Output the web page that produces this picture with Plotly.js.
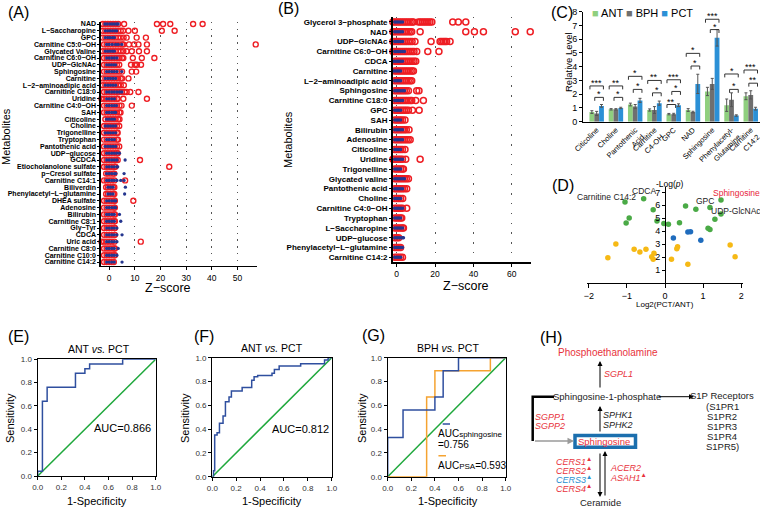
<!DOCTYPE html>
<html><head><meta charset="utf-8">
<script src="https://cdn.plot.ly/plotly-3.0.1.min.js"></script>
<style>html,body{margin:0;padding:0;background:#fff}#chart{width:760px;height:507px}</style>
</head><body><div id="chart"></div>
<script>
// ---------- Panel A data ----------
const namesA = ["NAD","L−Saccharopine","GPC","Carnitine C5:0−OH","Glycated Valine","Carnitine C6:0−OH","UDP−GlcNAc","Sphingosine","Carnitine","L−2−aminoadipic acid","Carnitine C18:0","Uridine","Carnitine C4:0−OH","SAH","Citicoline","Choline","Trigonelline","Tryptophan","Pantothenic acid","UDP−glucose","GCDCA","Etiocholanolone sulfate","p−Cresol sulfate","Carnitine C14:1","Biliverdin","Phenylacetyl−L−glutamine","DHEA sulfate","Adenosine","Bilirubin","Carnitine C8:1","Gly−Tyr","CDCA","Uric acid","Carnitine C8:0","Carnitine C10:0","Carnitine C14:2"];
const redA = [
 [-2.5,-1.5,-0.5,0.5,1.5,2.5,3.5,5.8,18.6,21,23.8,32.7,36.4],
 [-2.5,-1.5,-0.5,0.5,1.5,2.5,3.5,4.5,5.4,7.5,10,20.5,25.5],
 [-2.5,-1.5,-0.5,0.5,1.5,2.5,3.5,4.5,5.6,6.8,10.7,14.3],
 [-2,-1,0,1,2,3,4,5,5.5,7.7,9.7,11.4,14.7,57.1],
 [-2.5,-1.5,-0.5,0.5,1.5,2.5,3.5,4.5,5.5,6.8,8.8,11.6,14.7],
 [-2,-1,0,1,2,3,4,5,5.5,9.2,12.7,17.6],
 [-2,-1,0,1,2,3,3.9,8.5,10,10.8,12.4],
 [-2,-1,0,1,2,3,4,5,8.8,10.5],
 [-2.5,-1.5,-0.5,0.5,1.5,2.5,3.5,4.5,5,7.5],
 [-2.5,-1.5,-0.5,0.5,1.5,2.5,3.5,4.5,5.7],
 [-2,-1,0,1,2,3,4,5,6,6.8,8.2,11.4],
 [-3.9,-3,-2,-1,0,1,2,3,3.3,5.5,14.7],
 [-2,-1,0,1,2,3,4,4.8,8.8],
 [-2,-1,0,1,2,3,4,4.4],
 [-1.5,-0.5,0.5,1.5,2.5,3.5,4],
 [-2,-1,0,1,2,3,3.9],
 [-2,-1,0,1,2,3,3.3],
 [-2,-1,0,1,2,3,3.4],
 [-2,-1,0,1,2,3,3.9],
 [-2,-1,0,1,2,3,3.3],
 [-2,-1,0,1,2,2.6,3.3,12],
 [-2,-1,0,1,2,2.4,23.4],
 [-1.2,-0.5,0.5,1.5,2],
 [-2,-1,0,1,2,6.2],
 [-1.2,-0.5,0.5,1.5,2],
 [-1.2,-0.5,0.5,1.5,2],
 [-2,-1,0,1,2,2.2,9.4],
 [-2,-1,0,1,2,2.2],
 [-2,-1,0,1,2,2.2],
 [-2,-1,0,1,2,2.2],
 [-2,-1,0,1,2,2.2],
 [-2,-1,0,1,2,2.2],
 [-3,-2,-1,0,1,2,12.3],
 [-2,-1,0,1,2,2.2],
 [-2,-1,0,1,2,2.2],
 [-2,-1,0,1,1.8]
];
const blueA = [
 [-1.7,-0.8,0.2,1.1,2,2.9,3.5],
 [-1.5,-0.6,0.3,1.2,2.1,2.9],
 [-1.5,-0.6,0.3,1.2,2],
 [-1,0,1.2,2.5,3.5,4.9],
 [-1.5,-0.6,0.3,1.2,2],
 [-1,0,1,2,3],
 [-1,-0.1,0.8,1.7,2.5],
 [-1,0,1,2,3,4.9],
 [-1.5,-0.5,0.5,1.5,2.5],
 [-1.5,-0.5,0.5,1.5,2.5],
 [-1,0,1,2,3,4,4.9],
 [-1,0,1,2],
 [-1,0,1,2,2.8],
 [-1,0,1,2,2.5],
 [-1,0,1,2],
 [-1.5,-0.5,0.5,1.5,2.5],
 [-1.5,-0.5,0.5,1.5,2.5],
 [-1,0,1,2],
 [-1.5,-0.5,0.5,1.5,2.5],
 [-1,0,1,2,3,4],
 [-1,0,1,2,3,6.2],
 [-1,0,1,2,3,3.3],
 [-1,0,1,2,2.6,5.8],
 [-1,0,1,2,3,4.5,5.8],
 [-0.5,0.5,1.5,6.3],
 [-0.5,0.5,1.5,6],
 [-1,0,1,2,2.5],
 [-1,0,1,2,2.5],
 [-1,0,1,2,4],
 [-1,0,1,2,4.5],
 [-1,0,1,2,3],
 [-1,0,1,2,3,5],
 [-1,0,1,2,3],
 [-1,0,1,2,3.5],
 [-1,0,1,2,3],
 [-1,0,1,2,5]
];
// ---------- Panel B data ----------
const namesB = ["Glycerol 3−phosphate","NAD","UDP−GlcNAc","Carnitine C6:0−OH","CDCA","Carnitine","L−2−aminoadipic acid","Sphingosine","Carnitine C18:0","GPC","SAH","Bilirubin","Adenosine","Citicoline","Uridine","Trigonelline","Glycated valine","Pantothenic acid","Choline","Carnitine C4:0−OH","Tryptophan","L−Saccharopine","UDP−glucose","Phenylacetyl−L−glutamine","Carnitine C14:2"];
const redB = [
 [-2,-1,0,1,2,3,4,5,6,7,8,8.7,11.3,12.3,13.3,14.3,15.3,16.3,17.3,18.3,29.2,32.1,36],
 [-2,-1,0,1,2,3,4,5,6,7,7.8,12.2,36,40.5,45.2,61.8,69.6],
 [-2,-1,0,1,2,3,4,5,6,7,8,9.5,17.9,22.6,23.5,24.4,25.2,26,27.8],
 [-2,-1,0,1,2,3,4,5,6,7,8,9,10.4,16.2,22],
 [-1,0,1,2,3,4,5,6,7,8,9,9.9],
 [-1,0,1,2,3,4,5,6,7,8,8.7],
 [-1,0,1,2,3,4,5,6,7,7.8],
 [-1,0,1,2,3,4,5,6.1,10.4,11.6],
 [-1,0,1,2,3,4,5,6,7,7.8,9.9,13.9],
 [-1,0,1,2,3,4,5,6.1,8.2,11.7],
 [-1,0,1,2,3,4.3],
 [-1,0,1,2,3,4,5,6.4],
 [-1,0,1,2,3,4,5,6,7],
 [-1,0,1,2,3,4.3],
 [-2,-1,0,1,2,3,4.7,12.2],
 [-1,0,1,2,3,3.5],
 [-1,0,1,2,3,4,5,6.1],
 [-1,0,1,2,3,4,5.2],
 [-1,0,1,2,3.1],
 [-1,0,1,2,3,5.2],
 [-1,0,1,2,2.6],
 [-1,0,1,2,3,3.5],
 [-1,0,1],
 [-1,0,1,2],
 [-1,0,1,2,3]
];
const blueB = [
 [-1,0,1,2,3],[-1,0,1,2,3],[-1,0,1,2,3],[-1,0,1,2,3,4],[-2,-1,0,1,2,3],
 [-2,-1,0,1,2],[-1,0,1,2],[-1,0,1,2,3,4],[-1,0,1,2,3],[-1,0,1,2],
 [-1,0,1,2],[-1,0,1,2,3],[-1,0,1,2,3],[-1,0,1,2],[-1,0,1,2,3],
 [-1,0,1,2],[-1,0,1,2,3,4],[-1,0,1,2,3],[-1,0,1,2],[-1,0,1,2,3],
 [-1,0,1,2],[-1,0,1,2,3],[-1,0,1,2,3,3.5],[-1,0,1,2,3],[-1,0,1,2]
];
// ---------- Panel C data ----------
const catC = ["Citicoline","Choline","Pantothenic<br>Acid","Carnitine<br>C4-OH","GPC","NAD","Sphingosine","Phenylacetyl-<br>Glutamine","Carnitine<br>C14:2"];
const antC = [0.7,0.9,1.25,0.85,0.55,0.85,2.2,1.2,1.85];
const bphC = [0.6,0.9,1.1,0.85,0.55,0.7,2.75,1.6,1.95];
const pctC = [1.15,1.0,1.55,1.35,1.2,2.75,6.1,0.45,0.95];
const antErr = [0.1,0.05,0.1,0.08,0.05,0.1,0.3,0.45,0.25];
const bphErr = [0.15,0.05,0.15,0.25,0.06,0.06,0.4,0.5,0.3];
const pctErr = [0.1,0.05,0.15,0.15,0.1,0.7,0.6,0.05,0.1];
// brackets: [group, fromBar, toBar, level, stars]
const bracketsC = [
 [0,0,2,2.6,"***"],[0,1,2,1.77,"*"],
 [1,0,2,2.6,"**"],[1,1,2,1.77,"*"],
 [2,0,2,3.3,"*"],[2,1,2,2.35,"*"],
 [3,0,2,3.0,"**"],[3,1,2,2.1,"*"],
 [4,0,2,3.05,"***"],[4,1,2,2.2,"*"],[4,0,1,1.25,"**"],
 [5,0,2,4.97,"*"],[5,1,2,4.05,"*"],
 [6,0,2,7.45,"***"],[6,1,2,6.7,"*"],
 [7,0,2,3.47,"*"],[7,1,2,2.35,"*"],
 [8,0,2,3.76,"***"],[8,1,2,2.8,"**"]
];
// ---------- Panel D data ----------
const dGreenX = [-1.05,-0.56,-0.31,-0.94,-1.02,-0.21,-0.03,0.09,0.38,0.54,0.81,1.18,1.47,1.47,1.31,1.13,1.18];
const dGreenY = [6.25,6.51,5.66,5.02,4.63,4.79,4.6,4.53,4.66,5.95,5.69,5.84,6.41,5.33,4.92,4.22,4.14];
const dBlueX = [0.22,0.6,0.67,0.94];
const dBlueY = [3.47,3.94,3.96,3.3];
const dYellowX = [-1.29,-1.5,-0.81,-0.66,-0.5,-0.29,-0.35,-0.31,0.17,0.31,0.33,0.6,1.71,1.84];
const dYellowY = [3.01,1.96,2.6,2.39,2.6,2.29,2.03,1.83,1.83,2.65,2.8,1.44,2.93,2.03];
// ---------- ROC data ----------
const diag = [0,1];
const rocEx = [0,0,0.04,0.04,0.08,0.08,0.32,0.32,0.4,0.4,0.44,0.44,0.72,0.72,1];
const rocEy = [0,0.04,0.04,0.64,0.64,0.76,0.76,0.88,0.88,0.92,0.92,0.96,0.96,1,1];
const rocFx = [0,0.01,0.01,0.02,0.02,0.04,0.04,0.06,0.06,0.09,0.09,0.11,0.11,0.14,0.14,0.16,0.16,0.25,0.25,0.33,0.33,0.35,0.35,0.38,0.38,0.5,0.5,0.52,0.52,0.56,0.56,0.74,0.74,0.94,0.94,0.97,0.97,1];
const rocFy = [0,0,0.05,0.05,0.35,0.35,0.37,0.37,0.45,0.45,0.51,0.51,0.63,0.63,0.67,0.67,0.72,0.72,0.75,0.75,0.81,0.81,0.84,0.84,0.85,0.85,0.87,0.87,0.9,0.9,0.93,0.93,0.95,0.95,0.98,0.98,1,1];
const rocGsx = [0,0,0.13,0.13,0.4,0.4,0.47,0.47,0.6,0.6,1];
const rocGsy = [0,0.33,0.33,0.56,0.56,0.67,0.67,0.89,0.89,1,1];
const rocGpx = [0,0.33,0.33,0.4,0.4,0.87,0.87,1];
const rocGpy = [0,0,0.67,0.67,0.89,0.89,1,1];

// ---------- helpers ----------
const W = 760, H = 507;
const px = x => x / W;
const py = y => 1 - y / H;
const FONT = "Arial, 'Liberation Sans', sans-serif";
function expand(names, vals) {
  const x = [], y = [];
  names.forEach((n, i) => vals[i].forEach(v => { x.push(v); y.push(n); }));
  return {x, y};
}
const RED = '#ee1d23', NAVY = '#25368f';
const eA_r = expand(namesA, redA), eA_b = expand(namesA, blueA);
const eB_r = expand(namesB, redB), eB_b = expand(namesB, blueB);

const data = [
  {type:'scatter', mode:'markers', x:eA_r.x, y:eA_r.y, xaxis:'x', yaxis:'y', cliponaxis:false,
   marker:{symbol:'circle-open', size:5, color:RED, line:{width:1.4}}},
  {type:'scatter', mode:'markers', x:eA_b.x, y:eA_b.y, xaxis:'x', yaxis:'y',
   marker:{symbol:'circle', size:3.3, color:NAVY}},
  {type:'scatter', mode:'markers', x:eB_r.x, y:eB_r.y, xaxis:'x2', yaxis:'y2', cliponaxis:false,
   marker:{symbol:'circle-open', size:6, color:RED, line:{width:1.5}}},
  {type:'scatter', mode:'markers', x:eB_b.x, y:eB_b.y, xaxis:'x2', yaxis:'y2',
   marker:{symbol:'circle', size:3.5, color:NAVY}},
  {type:'bar', name:'ANT', x:catC, y:antC, xaxis:'x3', yaxis:'y3', marker:{color:'#8fcf7f'},
   error_y:{type:'data', array:antErr, color:'#555', thickness:1, width:1.5}},
  {type:'bar', name:'BPH', x:catC, y:bphC, xaxis:'x3', yaxis:'y3', marker:{color:'#6f6f6f'},
   error_y:{type:'data', array:bphErr, color:'#555', thickness:1, width:1.5}},
  {type:'bar', name:'PCT', x:catC, y:pctC, xaxis:'x3', yaxis:'y3', marker:{color:'#2b90d6'},
   error_y:{type:'data', array:pctErr, color:'#555', thickness:1, width:1.5}},
  {type:'scatter', mode:'markers', x:dGreenX, y:dGreenY, xaxis:'x4', yaxis:'y4', marker:{size:5.5, color:'#4aaa46'}},
  {type:'scatter', mode:'markers', x:dBlueX, y:dBlueY, xaxis:'x4', yaxis:'y4', marker:{size:5.5, color:'#1f6cbd'}},
  {type:'scatter', mode:'markers', x:dYellowX, y:dYellowY, xaxis:'x4', yaxis:'y4', marker:{size:5.5, color:'#f6b915'}},
  {type:'scatter', mode:'lines', x:diag, y:diag, xaxis:'x5', yaxis:'y5', line:{color:'#1fa83c', width:1.5}},
  {type:'scatter', mode:'lines', x:rocEx, y:rocEy, xaxis:'x5', yaxis:'y5', line:{color:'#2f4f9f', width:1.5}},
  {type:'scatter', mode:'lines', x:diag, y:diag, xaxis:'x6', yaxis:'y6', line:{color:'#1fa83c', width:1.5}},
  {type:'scatter', mode:'lines', x:rocFx, y:rocFy, xaxis:'x6', yaxis:'y6', line:{color:'#2f4f9f', width:1.5}},
  {type:'scatter', mode:'lines', x:diag, y:diag, xaxis:'x7', yaxis:'y7', line:{color:'#1fa83c', width:1.5}},
  {type:'scatter', mode:'lines', x:rocGpx, y:rocGpy, xaxis:'x7', yaxis:'y7', line:{color:'#f5a331', width:1.5}},
  {type:'scatter', mode:'lines', x:rocGsx, y:rocGsy, xaxis:'x7', yaxis:'y7', line:{color:'#2f4f9f', width:1.5}}
];

const axBase = {showline:true, linecolor:'#000', zeroline:false, showgrid:false, ticks:'outside', tickcolor:'#000', automargin:false};
function roc(dx, dy, anchor) {
  const tv = [0,0.2,0.4,0.6,0.8,1], tt = ['0.0','0.2','0.4','0.6','0.8','1.0'];
  return [
    Object.assign({}, axBase, {domain:dx, anchor:anchor[1], range:[0,1], tickvals:tv, ticktext:tt, mirror:true, linewidth:1.2, ticklen:3, tickfont:{size:8, color:'#333'}}),
    Object.assign({}, axBase, {domain:dy, anchor:anchor[0], range:[0,1], tickvals:tv, ticktext:tt, mirror:true, linewidth:1.2, ticklen:3, tickfont:{size:8, color:'#333'}})
  ];
}
const [x5, y5] = roc([px(37.7), px(155.7)], [py(476), py(359.3)], ['x5','y5']);
const [x6, y6] = roc([px(212.3), px(331.7)], [py(476.7), py(357.7)], ['x6','y6']);
const [x7, y7] = roc([px(387.7), px(505.7)], [py(476.7), py(357.7)], ['x7','y7']);

const shapes = [];
const annotations = [];
function ann(x, y, text, o) {
  annotations.push(Object.assign({xref:'paper', yref:'paper', x:px(x), y:py(y), text:text, showarrow:false,
    xanchor:'center', yanchor:'middle', font:{size:10, color:'#000', family:FONT}}, o || {}));
}
function arrow(hx, hy, tx, ty, color, width) {
  annotations.push({xref:'paper', yref:'paper', x:px(hx), y:py(hy), ax:tx - hx, ay:ty - hy, text:'', showarrow:true,
    arrowhead:2, arrowsize:1, arrowwidth:width || 1, arrowcolor:color || '#000'});
}

// C brackets
const offs = [-0.25, 0, 0.25];
bracketsC.forEach(b => {
  const g = b[0], x1 = g + offs[b[1]] - 0.1, x2 = g + offs[b[2]] + 0.1, lv = b[3];
  const ln = {type:'line', xref:'x3', yref:'y3', line:{color:'#333', width:1}};
  shapes.push(Object.assign({}, ln, {x0:x1, x1:x2, y0:lv, y1:lv}));
  shapes.push(Object.assign({}, ln, {x0:x1, x1:x1, y0:lv, y1:lv - 0.25}));
  shapes.push(Object.assign({}, ln, {x0:x2, x1:x2, y0:lv, y1:lv - 0.25}));
  annotations.push({xref:'x3', yref:'y3', x:(x1 + x2) / 2, y:lv, text:b[4], showarrow:false, yanchor:'bottom', yshift:-4,
    font:{size:9, color:'#000', family:FONT}});
});

// Panel labels
ann(18, 12, '(A)', {font:{size:16, family:FONT}});
ann(288, 9, '(B)', {font:{size:16, family:FONT}});
ann(562, 12, '(C)', {font:{size:16, family:FONT}});
ann(563, 185, '(D)', {font:{size:16, family:FONT}});
ann(18, 336, '(E)', {font:{size:16, family:FONT}});
ann(204, 336, '(F)', {font:{size:16, family:FONT}});
ann(373, 335, '(G)', {font:{size:16, family:FONT}});
ann(551, 337, '(H)', {font:{size:16, family:FONT}});

// A & B titles
ann(6, 137, 'Metabolites', {textangle:-90, font:{size:11, family:FONT}});
ann(168, 288, 'Z−score', {font:{size:12.5, family:FONT}});
ann(288, 140, 'Metabolites', {textangle:-90, font:{size:11, family:FONT}});
ann(466, 286, 'Z−score', {font:{size:12.5, family:FONT}});

// C legend & title
ann(590, 13, '<span style="color:#8fcf7f">■</span> ANT <span style="color:#6f6f6f">■</span> BPH <span style="color:#2b90d6">■</span> PCT', {xanchor:'left', font:{size:11, family:FONT}});
ann(569, 62, 'Relative Level', {textangle:-90, font:{size:9.5, family:FONT}});

// D labels
ann(670, 184, '-Log(<i>p</i>)', {font:{size:8.5, family:FONT}});
ann(665, 304.5, 'Log2(PCT/ANT)', {font:{size:8, family:FONT}});
ann(606, 197, 'Carnitine C14:2', {font:{size:8.5, family:FONT, color:'#222'}});
ann(644, 190.5, 'CDCA', {font:{size:8.5, family:FONT, color:'#222'}});
ann(705, 200.5, 'GPC', {font:{size:8.5, family:FONT, color:'#222'}});
ann(736, 193.3, 'Sphingosine', {font:{size:8.5, family:FONT, color:'#e8253a'}});
ann(736, 210.5, 'UDP-GlcNAc', {font:{size:8.5, family:FONT, color:'#222'}});

// ROC titles
ann(99, 349, 'ANT <i>vs.</i> PCT', {font:{size:10.5, family:FONT}});
ann(272, 348, 'ANT <i>vs.</i> PCT', {font:{size:10.5, family:FONT}});
ann(448, 348, 'BPH <i>vs.</i> PCT', {font:{size:10.5, family:FONT}});
ann(10, 418, 'Sensitivity', {textangle:-90, font:{size:11, family:FONT}});
ann(185, 418, 'Sensitivity', {textangle:-90, font:{size:11, family:FONT}});
ann(362, 418, 'Sensitivity', {textangle:-90, font:{size:11, family:FONT}});
ann(97, 501, '1-Specificity', {font:{size:11, family:FONT}});
ann(272, 501, '1-Specificity', {font:{size:11, family:FONT}});
ann(448, 501, '1-Specificity', {font:{size:11, family:FONT}});
ann(122, 428, 'AUC=0.866', {font:{size:11, family:FONT}});
ann(300, 429, 'AUC=0.812', {font:{size:11, family:FONT}});
ann(436, 433, 'AUC<span style="font-size:8px">sphingosine</span>', {xanchor:'left', font:{size:10, family:FONT}});
ann(436, 444, '=0.756', {xanchor:'left', font:{size:10, family:FONT}});
ann(436, 465.5, 'AUC<span style="font-size:8px">PSA</span>=0.593', {xanchor:'left', font:{size:10, family:FONT}});
shapes.push({type:'line', xref:'x7', yref:'y7', x0:0.466, x1:0.528, y0:0.443, y1:0.443, line:{color:'#2f4f9f', width:1.5}});
shapes.push({type:'line', xref:'x7', yref:'y7', x0:0.43, x1:0.494, y0:0.176, y1:0.176, line:{color:'#f5a331', width:1.5}});

// Panel H diagram
const HR = '#e8323c', HB = '#2a8fd0';
ann(608, 352.7, 'Phosphoethanolamine', {font:{size:10, color:HR, family:FONT}});
arrow(600, 361, 600, 389);
ann(618, 374, '<i>SGPL1</i>', {font:{size:9, color:HR, family:FONT}});
ann(607, 396.7, 'Sphingosine-1-phosphate', {font:{size:9.5, color:'#222', family:FONT}});
arrow(694, 396.7, 657, 396.7);
ann(722, 395, 'S1P Receptors', {font:{size:9.5, color:'#222', family:FONT}});
ann(722, 406, '(S1PR1', {font:{size:9.5, color:'#222', family:FONT}});
ann(722, 416, 'S1PR2', {font:{size:9.5, color:'#222', family:FONT}});
ann(722, 426, 'S1PR3', {font:{size:9.5, color:'#222', family:FONT}});
ann(722, 436, 'S1PR4', {font:{size:9.5, color:'#222', family:FONT}});
ann(722, 446, 'S1PR5)', {font:{size:9.5, color:'#222', family:FONT}});
shapes.push({type:'path', xref:'paper', yref:'paper', path:`M ${px(554)},${py(396.7)} L ${px(532.7)},${py(396.7)} L ${px(532.7)},${py(441)}`, line:{color:'#000', width:2.5}});
arrow(574, 441, 533.5, 441, '#9a9a9a', 1.3);
ann(550, 416.5, '<i>SGPP1</i>', {font:{size:9, color:HR, family:FONT}});
ann(550, 426, '<i>SGPP2</i>', {font:{size:9, color:HR, family:FONT}});
shapes.push({type:'rect', xref:'paper', yref:'paper', x0:px(575), x1:px(635.5), y0:py(435.5), y1:py(447.3), line:{color:'#1b6fae', width:3.5}, fillcolor:'#fff'});
ann(604, 441.3, 'Sphingosine', {font:{size:9.5, color:HR, family:FONT}});
arrow(600, 406, 600, 433);
ann(618, 415, '<i>SPHK1</i>', {font:{size:9, color:'#222', family:FONT}});
ann(618, 424.5, '<i>SPHK2</i>', {font:{size:9, color:'#222', family:FONT}});
arrow(600, 497, 600, 452);
arrow(605, 451, 605, 497);
ann(594, 460.7, '<i>CERS1</i><sup>▲</sup>', {xanchor:'right', font:{size:9, color:HR, family:FONT}});
ann(594, 469.5, '<i>CERS2</i><sup>▲</sup>', {xanchor:'right', font:{size:9, color:HR, family:FONT}});
ann(594, 479, '<i>CERS3</i><sup>▲</sup>', {xanchor:'right', font:{size:9, color:HB, family:FONT}});
ann(594, 488.3, '<i>CERS4</i><sup>▲</sup>', {xanchor:'right', font:{size:9, color:HR, family:FONT}});
ann(608, 467.7, '<i>ACER2</i>', {xanchor:'left', font:{size:9, color:HR, family:FONT}});
ann(608, 476.7, '<i>ASAH1</i><sup>▲</sup>', {xanchor:'left', font:{size:9, color:HR, family:FONT}});
ann(600, 502.7, 'Ceramide', {font:{size:9.5, color:'#222', family:FONT}});

const layout = {
  width: W, height: H, margin:{l:0, r:0, t:0, b:0}, showlegend:false,
  paper_bgcolor:'#fff', plot_bgcolor:'rgba(0,0,0,0)',
  font:{family:FONT, color:'#000'},
  barmode:'group', bargap:0.25, bargroupgap:0,
  xaxis: Object.assign({}, axBase, {domain:[px(101), px(257)], anchor:'y', range:[-3.2,57.6], tickvals:[0,10,20,30,40,50],
    showgrid:true, griddash:'1.5px,5.3px', gridcolor:'#555', gridwidth:1, linewidth:1.6, ticklen:3, tickfont:{size:8.5}}),
  yaxis: Object.assign({}, axBase, {domain:[py(265.7), py(21.7)], anchor:'x', type:'category', categoryorder:'array', categoryarray:namesA,
    tickmode:'array', tickvals:namesA, ticktext:namesA, range:[35.54,-0.34], linewidth:1.6, ticklen:2, tickfont:{size:7, weight:'bold'}}),
  xaxis2: Object.assign({}, axBase, {domain:[px(392.7), px(531)], anchor:'y2', range:[-2.1,70], tickvals:[0,20,40,60],
    showgrid:true, griddash:'1.5px,8.3px', gridcolor:'#555', gridwidth:1, linewidth:1.6, ticklen:3, tickfont:{size:8.5}}),
  yaxis2: Object.assign({}, axBase, {domain:[py(262.3), py(16.7)], anchor:'x2', type:'category', categoryorder:'array', categoryarray:namesB,
    tickmode:'array', tickvals:namesB, ticktext:namesB, range:[24.51,-0.54], linewidth:1.6, ticklen:2, tickfont:{size:8, weight:'bold'}}),
  xaxis3: Object.assign({}, axBase, {domain:[px(583), px(760)], anchor:'y3', type:'category', categoryorder:'array', categoryarray:catC,
    tickmode:'array', tickvals:catC, ticktext:catC, range:[-0.71,8.48], ticks:'', tickangle:-45, linewidth:1, tickfont:{size:7.5}}),
  yaxis3: Object.assign({}, axBase, {domain:[py(121.7), py(11.7)], anchor:'x3', range:[0,8], dtick:1, linewidth:1, ticklen:3, tickfont:{size:9}}),
  xaxis4: Object.assign({}, axBase, {domain:[px(586.9), px(743.1)], anchor:'y4', range:[-2.05,2.05], tickvals:[-2,-1,0,1,2], linewidth:1, ticklen:4, tickfont:{size:9}}),
  yaxis4: Object.assign({}, axBase, {domain:[py(283), py(187.2)], anchor:'free', position:px(665), range:[0,7.4], tickvals:[1,2,3,4,5,6,7], linewidth:1, ticklen:3, tickfont:{size:9}}),
  xaxis5:x5, yaxis5:y5, xaxis6:x6, yaxis6:y6, xaxis7:x7, yaxis7:y7,
  shapes: shapes, annotations: annotations
};
Plotly.newPlot('chart', data, layout, {displayModeBar:false, staticPlot:true});
</script></body></html>
